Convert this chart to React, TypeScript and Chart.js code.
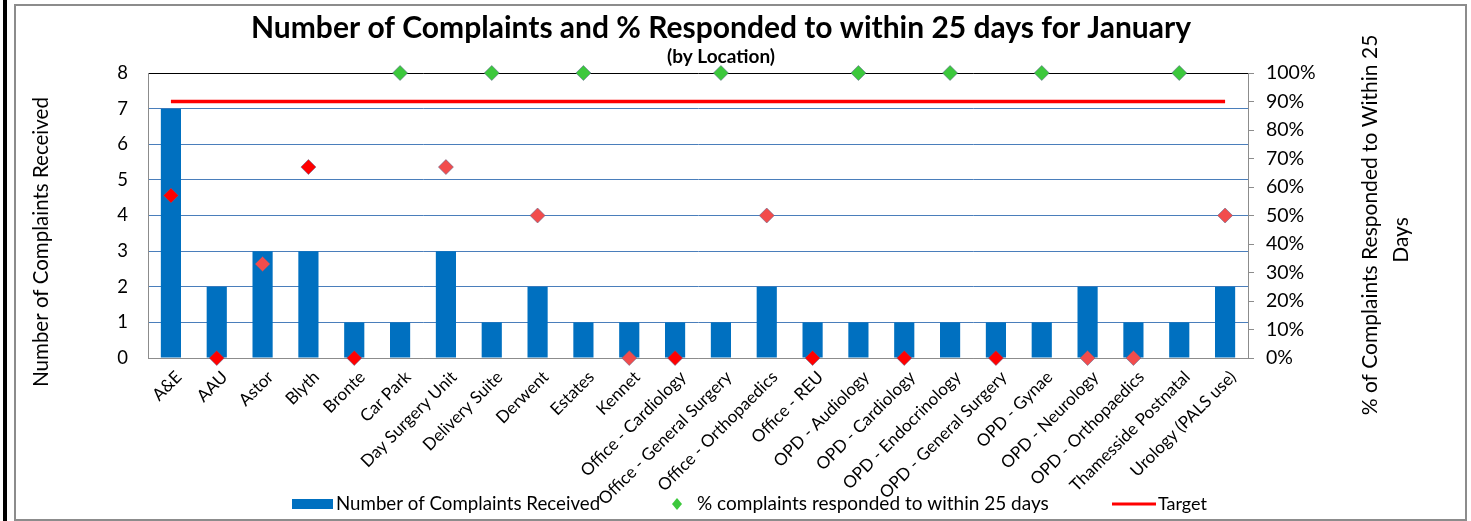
import React, { useEffect, useRef } from 'react';
import { Chart, registerables } from 'chart.js';

Chart.register(...registerables);

const categories = [
  'A&E', 'AAU', 'Astor', 'Blyth', 'Bronte', 'Car Park', 'Day Surgery Unit', 'Delivery Suite',
  'Derwent', 'Estates', 'Kennet', 'Office - Cardiology', 'Office - General Surgery',
  'Office - Orthopaedics', 'Office - REU', 'OPD - Audiology', 'OPD - Cardiology',
  'OPD - Endocrinology', 'OPD - General Surgery', 'OPD - Gynae', 'OPD - Neurology',
  'OPD - Orthopaedics', 'Thamesside Postnatal', 'Urology (PALS use)',
];

const complaintsReceived = [7, 2, 3, 3, 1, 1, 3, 1, 2, 1, 1, 1, 1, 2, 1, 1, 1, 1, 1, 1, 2, 1, 1, 2];

const pctResponded = [57, 0, 33, 67, 0, 100, 67, 100, 50, 100, 0, 0, 100, 50, 0, 100, 0, 100, 0, 100, 0, 0, 100, 50];

const targetPct = [90, 90, 90, 90, 90, 90, 90, 90, 90, 90, 90, 90, 90, 90, 90, 90, 90, 90, 90, 90, 90, 90, 90, 90];

const GREEN = '#3cc83c';
const RED = '#ff0000';
const LIGHT_RED = '#f24c4c';
const pointColours = [
  RED, RED, LIGHT_RED, RED, RED, GREEN, LIGHT_RED, GREEN, LIGHT_RED, GREEN, LIGHT_RED, RED,
  GREEN, LIGHT_RED, RED, GREEN, RED, GREEN, RED, GREEN, LIGHT_RED, LIGHT_RED, GREEN, LIGHT_RED,
];

const titleText = 'Number of Complaints and % Responded to within 25 days for January';
const subtitleText = '(by Location)';
const leftAxisTitle = 'Number of Complaints Received';
const rightAxisTitleLines = ['% of Complaints Responded to Within 25', 'Days'];
const legendLabels = ['Number of Complaints Received', '% complaints responded to within 25 days', 'Target'];

const FONT = 'Lato, "Open Sans", sans-serif';
const BAR_BLUE = '#0070c0';

const decorPlugin = {
  id: 'decor',
  beforeDraw(chart: any) {
    const ctx = chart.ctx;
    ctx.save();
    ctx.fillStyle = '#ffffff';
    ctx.fillRect(0, 0, chart.width, chart.height);
    ctx.fillStyle = '#000000';
    ctx.fillRect(3, 0, 4, chart.height);
    ctx.strokeStyle = '#8c8c8c';
    ctx.lineWidth = 2;
    ctx.strokeRect(15, 5, 1451, 515);
    ctx.restore();
  },
  afterDraw(chart: any) {
    const ctx = chart.ctx;
    ctx.save();
    ctx.fillStyle = '#000000';
    ctx.textAlign = 'center';
    ctx.textBaseline = 'middle';
    ctx.font = `bold 30px ${FONT}`;
    ctx.fillText(titleText, 721, 28);
    ctx.font = `bold 19px ${FONT}`;
    ctx.fillText(subtitleText, 721, 57);

    ctx.font = `20.5px ${FONT}`;
    ctx.save();
    ctx.translate(41, 242);
    ctx.rotate(-Math.PI / 2);
    ctx.fillText(leftAxisTitle, 0, 0);
    ctx.restore();

    ctx.font = `21px ${FONT}`;
    ctx.save();
    ctx.translate(1370, 225);
    ctx.rotate(-Math.PI / 2);
    ctx.fillText(rightAxisTitleLines[0], 0, 0);
    ctx.restore();
    ctx.save();
    ctx.translate(1401, 240);
    ctx.rotate(-Math.PI / 2);
    ctx.fillText(rightAxisTitleLines[1], 0, 0);
    ctx.restore();

    // legend
    const ly = 504;
    ctx.font = `18.7px ${FONT}`;
    ctx.textAlign = 'left';
    ctx.fillStyle = BAR_BLUE;
    ctx.fillRect(292, ly - 5, 41, 10);
    ctx.fillStyle = '#000000';
    ctx.fillText(legendLabels[0], 336, ly);

    ctx.fillStyle = GREEN;
    ctx.beginPath();
    ctx.moveTo(677, ly - 6);
    ctx.lineTo(682, ly);
    ctx.lineTo(677, ly + 6);
    ctx.lineTo(672, ly);
    ctx.closePath();
    ctx.fill();
    ctx.fillStyle = '#000000';
    ctx.font = `19px ${FONT}`;
    ctx.fillText(legendLabels[1], 697, ly);

    ctx.strokeStyle = RED;
    ctx.lineWidth = 3;
    ctx.beginPath();
    ctx.moveTo(1112, ly);
    ctx.lineTo(1156, ly);
    ctx.stroke();
    ctx.font = `18px ${FONT}`;
    ctx.fillText(legendLabels[2], 1158, ly);
    ctx.restore();
  },
};

export default function App() {
  const canvasRef = useRef<HTMLCanvasElement | null>(null);

  useEffect(() => {
    document.body.style.margin = '0';
    const canvas = canvasRef.current;
    if (!canvas) return;
    const chart = new Chart(canvas, {
      type: 'bar',
      data: {
        labels: categories,
        datasets: [
          {
            type: 'line',
            label: legendLabels[1],
            data: pctResponded,
            yAxisID: 'y1',
            showLine: false,
            pointStyle: 'rectRot',
            pointRadius: 7.5,
            pointBackgroundColor: pointColours,
            pointBorderColor: 'rgba(90,100,140,0.7)',
            pointBorderWidth: 0.8,
            clip: false,
            order: 1,
          } as any,
          {
            type: 'line',
            label: legendLabels[2],
            data: targetPct,
            yAxisID: 'y1',
            borderColor: RED,
            borderWidth: 3.5,
            pointRadius: 0,
            fill: false,
            order: 2,
          } as any,
          {
            type: 'bar',
            label: legendLabels[0],
            data: complaintsReceived,
            yAxisID: 'y',
            backgroundColor: BAR_BLUE,
            barPercentage: 0.44,
            categoryPercentage: 1,
            order: 3,
          } as any,
        ],
      },
      options: {
        responsive: false,
        animation: false,
        devicePixelRatio: 1,
        layout: { padding: { left: 20, top: 73, right: 0, bottom: 0 } },
        plugins: {
          legend: { display: false },
          title: { display: false },
          tooltip: { enabled: false },
        },
        scales: {
          x: {
            offset: true,
            grid: { display: false },
            border: { display: true, color: '#8c8c8c', width: 1 },
            ticks: {
              autoSkip: false,
              minRotation: 45,
              maxRotation: 45,
              padding: 1,
              labelOffset: 8,
              color: '#000000',
              font: { family: FONT, size: 17 },
            },
            afterFit: (scale: any) => { scale.height = 163; },
          },
          y: {
            position: 'left',
            min: 0,
            max: 8,
            ticks: {
              stepSize: 1,
              padding: 20,
              color: '#000000',
              font: { family: FONT, size: 18.5 },
            },
            grid: {
              drawTicks: false,
              color: (c: any) => (c.tick && c.tick.value === 8 ? '#000000' : c.tick && c.tick.value === 0 ? '#8c8c8c' : '#4a7ebb'),
              lineWidth: 1,
            },
            border: { display: true, color: '#8c8c8c', width: 1 },
            afterFit: (scale: any) => { scale.width = 128; },
          },
          y1: {
            position: 'right',
            min: 0,
            max: 100,
            ticks: {
              stepSize: 10,
              padding: 12,
              color: '#000000',
              font: { family: FONT, size: 19.5 },
              callback: (v: any) => `${v}%`,
            },
            grid: {
              drawOnChartArea: false,
              drawTicks: true,
              tickLength: 6,
              tickColor: '#8c8c8c',
            },
            border: { display: true, color: '#8c8c8c', width: 1 },
            afterFit: (scale: any) => { scale.width = 223; },
          },
        },
      },
      plugins: [decorPlugin],
    });
    return () => chart.destroy();
  }, []);

  return (
    <div style={{ position: 'absolute', left: 0, top: 0, width: 1471, height: 521 }}>
      <canvas ref={canvasRef} width={1471} height={521} />
    </div>
  );
}
